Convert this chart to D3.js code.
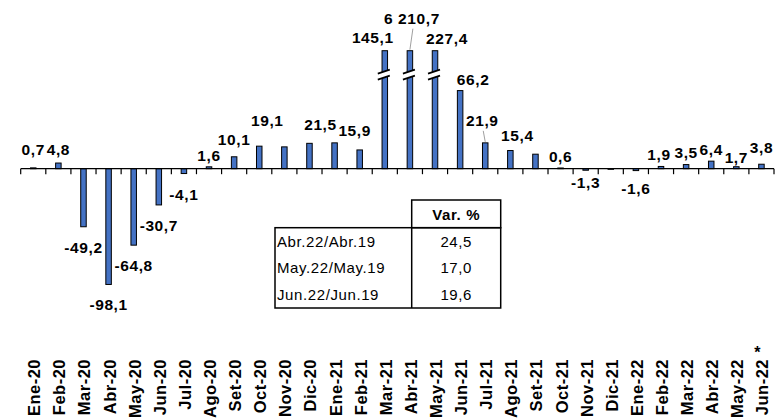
<!DOCTYPE html>
<html>
<head>
<meta charset="utf-8">
<script src="https://cdn.jsdelivr.net/npm/d3@7"></script>
<style>
  html, body { margin: 0; padding: 0; background: #fff; }
  svg { display: block; }
  text { font-family: "Liberation Sans", Arial, sans-serif; }
</style>
</head>
<body>
<svg id="chart" width="782" height="419"></svg>
<script>
// ---- data ----
const categories = ["Ene-20","Feb-20","Mar-20","Abr-20","May-20","Jun-20","Jul-20","Ago-20","Set-20","Oct-20","Nov-20","Dic-20",
  "Ene-21","Feb-21","Mar-21","Abr-21","May-21","Jun-21","Jul-21","Ago-21","Set-21","Oct-21","Nov-21","Dic-21",
  "Ene-22","Feb-22","Mar-22","Abr-22","May-22","Jun-22"];
const values = [0.7, 4.8, -49.2, -98.1, -64.8, -30.7, -4.1, 1.6, 10.1, 19.1, 18.5, 21.5,
  21.9, 15.9, 145.1, 6210.7, 227.4, 66.2, 21.9, 15.4, 12.3, 0.6, -1.3, -0.3,
  -1.6, 1.9, 3.5, 6.4, 1.7, 3.8];
const labels = ["0,7","4,8","-49,2","-98,1","-64,8","-30,7","-4,1","1,6","10,1","19,1","","21,5",
  "","15,9","145,1","6 210,7","227,4","66,2","21,9","15,4","","0,6","-1,3","",
  "-1,6","1,9","3,5","6,4","1,7","3,8"];
const noteCategory = "Jun-22";   // marked with an asterisk
const tableHeader = "Var. %";
const tableRows = ["Abr.22/Abr.19","May.22/May.19","Jun.22/Jun.19"];
const tableValues = ["24,5","17,0","19,6"];
const capValue = 100;    // bars above this are drawn broken
const breakValue = 80;

// ---- layout ----
const svg = d3.select("#chart");
const x = d3.scaleBand().domain(categories).range([20.7, 774]).padding(0);
const y = d3.scaleLinear().domain([-100, 100]).range([286.7, 50.7]);
const barW = 5.5;
const blue = "#4472C4";

// label tweaks (dx, dy) relative to default placement
const labelShift = {
  "Ene-20":[0,-7], "Feb-20":[0,-2], "Set-20":[0,-6], "Oct-20":[8,-14], "Dic-20":[11,-7],
  "Feb-21":[-5,-8], "Mar-21":[-12,-2], "Abr-21":[2,-21], "May-21":[12,-1], "Jun-21":[13,0],
  "Jul-21":[-3,-11], "Ago-21":[7,-4], "Nov-21":[0,-8], "Ene-22":[0,-3], "Feb-22":[-2,0],
  "Mar-22":[0,-1], "May-22":[0,2], "Jun-22":[0,-5]
};
const leaders = ["Abr-21","Jul-21"];

const data = categories.map((c,i)=>({c, v:values[i], lab:labels[i]}));
const cx = d => x(d.c) + x.bandwidth()/2;
const shown = d => Math.min(d.v, capValue);

// bars
svg.append("g").selectAll("rect").data(data).join("rect")
  .attr("x", d => cx(d) - barW/2)
  .attr("y", d => y(Math.max(0, shown(d))))
  .attr("width", barW)
  .attr("height", d => Math.max(0.6, Math.abs(y(shown(d)) - y(0))))
  .attr("fill", blue)
  .attr("stroke", "#000")
  .attr("stroke-width", 1);

// breaks
const broken = data.filter(d => d.v > capValue);
const bg = svg.append("g");
broken.forEach(d => {
  const xc = cx(d), yc = y(breakValue);
  const x1 = xc - 7, x2 = xc + 5;
  const s = 4/12; // slope
  const h = 3;
  const y1 = yc + (xc - x1)*s, y2 = yc - (x2 - xc)*s;
  bg.append("path")
    .attr("d", `M${x1},${y1-h}L${x2},${y2-h}L${x2},${y2+h}L${x1},${y1+h}Z`)
    .attr("fill", "#fff");
  [-h, h].forEach(o => bg.append("line")
    .attr("x1", x1).attr("y1", y1+o).attr("x2", x2).attr("y2", y2+o)
    .attr("stroke", "#000").attr("stroke-width", 1.6));
});

// axis line and ticks
const ax = svg.append("g");
ax.append("line").attr("x1", x.range()[0]).attr("x2", x.range()[1])
  .attr("y1", y(0)).attr("y2", y(0)).attr("stroke", "#000").attr("stroke-width", 1.2);
const bounds = categories.map(c => x(c)).concat([x.range()[1]]);
ax.selectAll("line.tick").data(bounds).join("line").attr("class","tick")
  .attr("x1", d=>d).attr("x2", d=>d).attr("y1", y(0)).attr("y2", y(0)+5.5)
  .attr("stroke", "#000").attr("stroke-width", 1.2);

// value labels
const lg = svg.append("g");
data.filter(d => d.lab).forEach(d => {
  const sh = labelShift[d.c] || [0,0];
  const base = d.v >= 0 ? y(shown(d)) - 6 : y(d.v) + 26;
  const lx = cx(d) + sh[0], ly = base + sh[1];
  if (leaders.includes(d.c)) {
    lg.append("line").attr("x1", lx + 1).attr("y1", ly + 5)
      .attr("x2", cx(d)).attr("y2", y(shown(d)) - 1)
      .attr("stroke", "#a0a0a0").attr("stroke-width", 1);
  }
  lg.append("text").attr("x", lx).attr("y", ly)
    .attr("text-anchor", "middle")
    .attr("font-size", "15.5px").attr("font-weight", "bold")
    .attr("letter-spacing", "0.6px")
    .text(d.lab);
});

// category labels
const tg = svg.append("g");
categories.forEach(c => {
  const xc = x(c) + x.bandwidth()/2 + 1;
  tg.append("text")
    .attr("transform", `translate(${xc},359) rotate(-90)`)
    .attr("text-anchor", "end")
    .attr("dy", "0.36em")
    .attr("font-size", "16.5px").attr("font-weight", "bold")
    .attr("letter-spacing", "0.5px")
    .text(c);
  if (c === noteCategory) {
    tg.append("text").attr("x", xc - 5).attr("y", 358)
      .attr("text-anchor", "middle").attr("font-size", "16px").attr("font-weight", "bold")
      .text("*");
  }
});

// table
const tb = svg.append("g");
const tL = 275, tM = 411.7, tR = 500.7, tT = 200, tH = 227.7, tB = 308;
const rowH = (tB - tH) / tableRows.length;
tb.append("rect").attr("x", tM).attr("y", tT).attr("width", tR - tM).attr("height", tH - tT)
  .attr("fill", "none").attr("stroke", "#000").attr("stroke-width", 1.5);
tb.append("rect").attr("x", tL).attr("y", tH).attr("width", tR - tL).attr("height", tB - tH)
  .attr("fill", "none").attr("stroke", "#000").attr("stroke-width", 1.5);
tb.append("line").attr("x1", tM).attr("x2", tM).attr("y1", tH).attr("y2", tB)
  .attr("stroke", "#000").attr("stroke-width", 1.5);
tb.append("text").attr("x", (tM+tR)/2).attr("y", tT + 19.5).attr("text-anchor","middle")
  .attr("font-size","15px").attr("font-weight","bold").attr("letter-spacing","0.6px").text(tableHeader);
tableRows.forEach((r,i) => {
  const yy = tH + rowH*i + rowH/2 + 5.5;
  tb.append("text").attr("x", tL + 2).attr("y", yy).attr("font-size","15px")
    .attr("letter-spacing","0.6px").text(r);
  tb.append("text").attr("x", (tM+tR)/2).attr("y", yy).attr("text-anchor","middle")
    .attr("font-size","15px").attr("letter-spacing","0.6px").text(tableValues[i]);
});
</script>
</body>
</html>
